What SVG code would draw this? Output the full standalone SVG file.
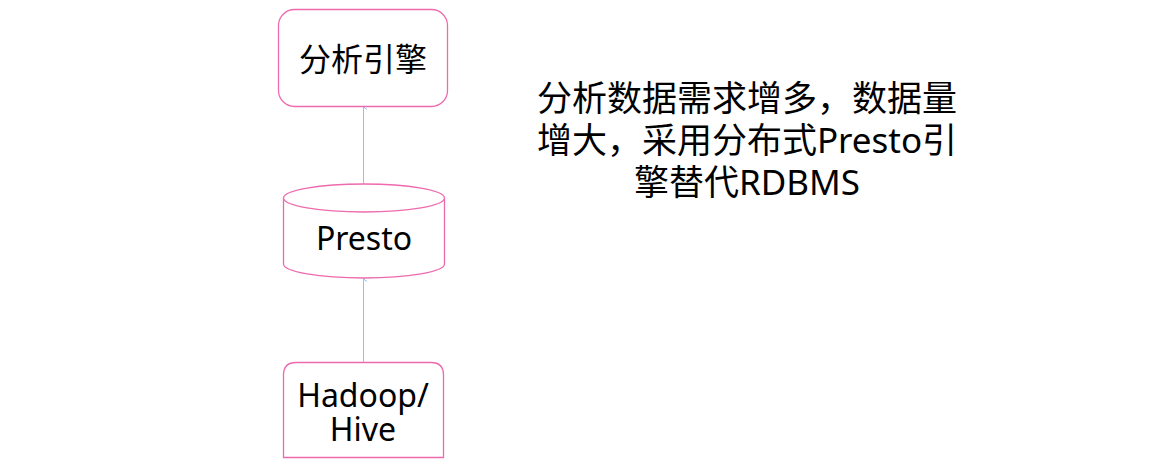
<svg xmlns="http://www.w3.org/2000/svg" width="1150" height="467" viewBox="0 0 1150 467">
<defs>
<style>
.node{fill:#fff;stroke:#ee6aae;stroke-width:1.3}
.lbl{font-family:"Noto Sans","Noto Sans CJK SC",sans-serif;font-size:32px;fill:#000;text-anchor:middle}
.big{font-family:"Noto Sans","Noto Sans CJK SC",sans-serif;font-size:35px;fill:#000;text-anchor:middle}
.edge{stroke:#8fc3f2;stroke-width:1;fill:none}
</style>
<marker id="ah" viewBox="0 0 8 8" refX="4" refY="1" markerWidth="8" markerHeight="8" orient="auto-start-reverse" markerUnits="userSpaceOnUse">
<path d="M1.5 4.5 L4 1 L6.5 4.5" fill="none" stroke="#8fc3f2" stroke-width="1"/>
</marker>
</defs>
<rect width="1150" height="467" fill="#fff"/>
<g id="connectors">
<line class="edge" x1="363.5" y1="184" x2="363.5" y2="107" marker-end="url(#ah)"/>
<line class="edge" x1="363.5" y1="362" x2="363.5" y2="279" marker-end="url(#ah)"/>
</g>
<g id="engine">
<rect class="node" x="278.5" y="9.5" width="169" height="97" rx="16"/>
<text class="lbl" x="363" y="71">分析引擎</text>
</g>
<g id="presto">
<path class="node" d="M283.5 198 A80.5 14 0 0 1 444.5 198 L444.5 264 A80.5 14 0 0 1 283.5 264 Z"/>
<path class="node" d="M283.5 198 A80.5 14 0 0 0 444.5 198" fill="none"/>
<text class="lbl" x="364" y="250">Presto</text>
</g>
<g id="hadoop">
<path class="node" d="M283.5 457.5 L283.5 375 Q283.5 362.5 296 362.5 L431 362.5 Q443.5 362.5 443.5 375 L443.5 457.5 Z"/>
<text class="lbl" x="363" y="407">Hadoop/</text>
<text class="lbl" x="363" y="441">Hive</text>
</g>
<g id="note">
<text class="big" x="747" y="111">分析数据需求增多，数据量</text>
<text class="big" x="747" y="153">增大，采用分布式Presto引</text>
<text class="big" x="747" y="195">擎替代RDBMS</text>
</g>
</svg>
